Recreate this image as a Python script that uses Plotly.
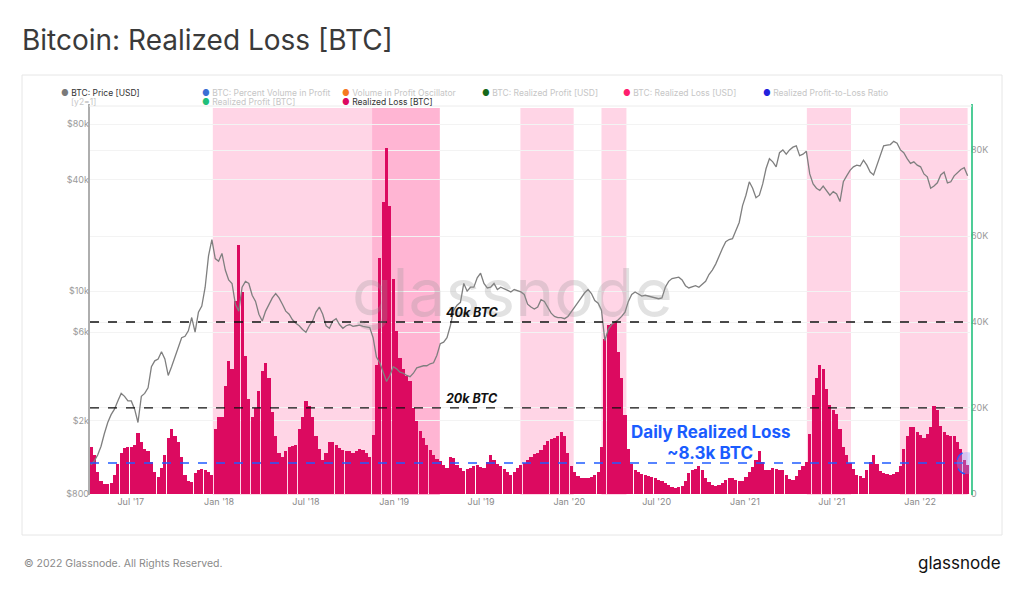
import pandas as pd
import plotly.graph_objects as go

# ---------------- data (weekly samples) ----------------
week_start = "2017-04-09"
n_weeks = 262
dates = pd.date_range(week_start, periods=n_weeks, freq="7D")

price_usd = [
    1150, 1210, 1300, 1450, 1700, 1950, 2150, 2300, 2550, 2800,
    2700, 2550, 2550, 2300, 1950, 2700, 2800, 3000, 3900, 4200,
    4300, 4700, 4300, 3500, 3900, 4400, 5000, 5600, 5700, 6100,
    7200, 6000, 7700, 8300, 10500, 15500, 19000, 15000, 14500, 16000,
    13000, 11500, 11000, 8500, 7800, 10500, 11300, 11000, 9500, 8800,
    7500, 6900, 7800, 8500, 9200, 9700, 9200, 8500, 7800, 7500,
    7000, 6700, 6500, 6200, 6000, 6500, 6900, 7700, 8200, 7500,
    6500, 6300, 6900, 7100, 6600, 6300, 6500, 6600, 6450, 6500,
    6550, 6450, 6400, 6350, 5600, 4400, 4100, 3600, 3250, 3500,
    3900, 3800, 3650, 3600, 3500, 3450, 3600, 3850, 3900, 3950,
    3950, 4050, 4100, 4500, 5200, 5300, 5600, 6500, 7900, 8400,
    8700, 11000, 10000, 10500, 10500, 11800, 12500, 11000, 10400, 10500,
    11000, 10200, 10500, 10300, 10100, 9900, 10200, 10000, 9900, 9600,
    8500, 8200, 8000, 8200, 9000, 8800, 8200, 7600, 7300, 7200,
    7200, 7100, 7300, 7800, 8200, 8700, 9300, 9800, 10200, 9700,
    8900, 8600, 7900, 5400, 6200, 6600, 6800, 7000, 7300, 7700,
    8800, 9600, 9900, 9600, 9400, 9500, 9400, 9300, 9200, 9100,
    9200, 10500, 11300, 11700, 11800, 11900, 11500, 10700, 10400, 10600,
    10700, 10500, 10900, 11300, 12300, 13000, 14000, 15500, 17000, 18500,
    19000, 19200, 21500, 23500, 29000, 33000, 39000, 36000, 32000, 33000,
    38000, 46000, 52000, 50000, 47000, 56000, 58000, 55000, 58000, 60000,
    61000, 54000, 55000, 57000, 43000, 38000, 36000, 35000, 37000, 35000,
    33000, 34500, 33500, 30500, 39000, 42000, 45000, 47000, 48000, 47500,
    51000, 48000, 44000, 42500, 48000, 55000, 61000, 61500, 62000, 64500,
    63000, 58000, 56000, 52000, 49000, 50000, 48000, 47000, 43000, 41500,
    36000, 37000, 38500, 42500, 44000, 38500, 39000, 42000, 44000, 45500,
    46500, 42000,
]

realized_loss_btc = [
    11000, 9000, 5000, 3000, 2200, 2300, 2600, 4500, 7000, 9500,
    10800, 11000, 11000, 11400, 14200, 12000, 10500, 9900, 7500, 5000,
    3900, 6000, 9000, 13000, 15000, 13500, 12000, 8500, 4500, 3000,
    2800, 4800, 5500, 5700, 5500, 5000, 4500, 15000, 18000, 18000,
    25000, 31000, 29000, 45000, 58000, 47000, 32000, 22000, 18000, 20000,
    24000, 28500, 30500, 27000, 19000, 13500, 9500, 8600, 10000, 11000,
    11200, 11500, 15000, 18000, 21600, 20500, 18000, 13500, 10500, 8000,
    9500, 12000, 12000, 11400, 10800, 10200, 9900, 10000, 9600, 10000,
    10500, 10200, 9500, 8600, 13800, 30000, 55000, 68000, 80500, 67000,
    50000, 38000, 31600, 29000, 27500, 26300, 20000, 17000, 14600, 13000,
    11500, 10300, 9100, 8200, 7600, 6800, 6000, 8500, 8400, 6800,
    6000, 5300, 5800, 6000, 6500, 6800, 6300, 6000, 7500, 9100,
    8000, 7000, 6500, 5800, 5000, 4500, 5000, 6000, 6800, 7300,
    7800, 8600, 9300, 9600, 10200, 11500, 12300, 12800, 13100, 13400,
    14500, 13500, 9500, 6500, 5000, 4200, 3800, 3800, 3800, 3900,
    4300, 5000, 11000, 36000, 39400, 39500, 40000, 33000, 27000, 18400,
    10500, 7000, 5600, 5000, 4600, 4400, 4100, 3900, 3600, 3300,
    3000, 2600, 2000, 1500, 1400, 1500, 1800, 3000, 4800, 5500,
    5800, 6400, 5500, 3800, 2800, 2100, 1800, 2100, 2500, 3200,
    3800, 3600, 3300, 3100, 3000, 4000, 5000, 6200, 8000, 9900,
    7500, 5500, 5500, 6000, 5800, 5600, 5500, 4500, 3500, 3200,
    4200, 5600, 6400, 7500, 14000, 23000, 27000, 30000, 29000, 24500,
    20800, 19500, 18500, 15000, 11000, 9000, 7300, 5700, 4500, 4100,
    3800, 5500, 7500, 9100, 7000, 5300, 4900, 4600, 4500, 4700,
    5000, 6500, 10500, 13500, 15500, 15500, 14300, 13600, 13100, 14000,
    15500, 20500, 19500, 15800, 14500, 13800, 13500, 13400, 12000, 10500,
    8000, 6800,
]

shaded_periods = [
    ("2017-12-19", "2019-04-06"),
    ("2018-11-16", "2019-04-06"),
    ("2019-09-21", "2020-01-10"),
    ("2020-03-08", "2020-04-29"),
    ("2021-05-10", "2021-08-10"),
    ("2021-11-20", "2022-04-10"),
]

threshold_levels = [40000, 20000]
threshold_labels = ["40k BTC", "20k BTC"]
current_loss_level = 7200
current_loss_date = "2022-04-08"

price_tickvals = [800, 2000, 6000, 10000, 40000, 80000]
price_ticktext = ["$800", "$2k", "$6k", "$10k", "$40k", "$80k"]
loss_tickvals = [0, 20000, 40000, 60000, 80000]
loss_ticktext = ["0", "20K", "40K", "60K", "80K"]
x_tickvals = ["2017-07-01", "2018-01-01", "2018-07-01", "2019-01-01", "2019-07-01",
              "2020-01-01", "2020-07-01", "2021-01-01", "2021-07-01", "2022-01-01"]
x_ticktext = ["Jul '17", "Jan '18", "Jul '18", "Jan '19", "Jul '19",
              "Jan '20", "Jul '20", "Jan '21", "Jul '21", "Jan '22"]

legend_row1 = [("BTC: Price [USD]", "#7a7a7a", True),
               ("BTC: Percent Volume in Profit", "#3b6fd4", False),
               ("Volume in Profit Oscillator", "#f6791f", False),
               ("BTC: Realized Profit [USD]", "#16691a", False),
               ("BTC: Realized Loss [USD]", "#ff1f6e", False),
               ("Realized Profit-to-Loss Ratio", "#2222dd", False)]
legend_row2 = [("Realized Profit [BTC]", "#1fbf7a", False),
               ("Realized Loss [BTC]", "#dd0760", True)]

# ---------------- figure ----------------
W, H = 1024, 590
L, R, T, B = 90, 54, 108, 95
pw, ph = W - L - R, H - T - B


def px(x):
    return (x - L) / pw


def py(y):
    return (H - B - y) / ph


FONT = "Inter, Noto Sans, sans-serif"
BAR_COLOR = "#dc0a60"

fig = go.Figure()

fig.add_trace(go.Bar(
    x=dates, y=realized_loss_btc, yaxis="y",
    marker=dict(color=BAR_COLOR, line=dict(width=0)),
    width=6.6 * 24 * 3600 * 1000,
    name="Realized Loss [BTC]", showlegend=False,
))
fig.add_trace(go.Scatter(
    x=dates, y=price_usd, yaxis="y2", mode="lines",
    line=dict(color="#7f7f7f", width=1.3),
    name="BTC: Price [USD]", showlegend=False,
))

shapes = []
for s, e in shaded_periods:
    shapes.append(dict(type="rect", xref="x", yref="paper", x0=s, x1=e, y0=0, y1=1,
                       fillcolor="rgba(255,80,150,0.24)", line=dict(width=0), layer="below"))
for lvl in threshold_levels:
    shapes.append(dict(type="line", xref="paper", yref="y", x0=0, x1=1, y0=lvl, y1=lvl,
                       line=dict(color="#111111", width=1.3, dash="dash")))
shapes.append(dict(type="line", xref="paper", yref="y", x0=0, x1=1,
                   y0=current_loss_level, y1=current_loss_level,
                   line=dict(color="#1f5cff", width=1.3, dash="dash")))
shapes.append(dict(type="circle", xref="x", yref="y", xsizemode="pixel", ysizemode="pixel",
                   xanchor=current_loss_date, yanchor=current_loss_level,
                   x0=-10, x1=10, y0=-11, y1=11,
                   fillcolor="rgba(140,160,255,0.35)",
                   line=dict(color="#1f5cff", width=1.3, dash="dash")))
# axis lines
shapes.append(dict(type="line", xref="paper", yref="paper", x0=px(89), x1=px(89),
                   y0=0, y1=py(104), line=dict(color="#9a9a9a", width=1.6)))
shapes.append(dict(type="line", xref="paper", yref="paper", x0=px(972), x1=px(972),
                   y0=0, y1=py(104), line=dict(color="#22c07e", width=1.6)))
shapes.append(dict(type="line", xref="paper", yref="paper", x0=px(89), x1=px(972),
                   y0=py(106), y1=py(106), line=dict(color="#ececec", width=1)))
# panel border
shapes.append(dict(type="rect", xref="paper", yref="paper", x0=px(22), x1=px(1002),
                   y0=py(535), y1=py(75), line=dict(color="#e6e6e6", width=1), layer="below"))

annotations = []
annotations.append(dict(text="glassnode", xref="paper", yref="paper", x=px(512), y=py(292),
                        xanchor="center", yanchor="middle",
                        showarrow=False, font=dict(family=FONT, size=66, color="rgba(150,150,150,0.28)")))
for lvl, lab in zip(threshold_levels, threshold_labels):
    annotations.append(dict(text="<b><i>" + lab + "</i></b>", xref="paper", yref="y",
                            x=px(444), y=lvl, xanchor="left", yanchor="bottom", yshift=0,
                            showarrow=False, font=dict(family=FONT, size=12.5, color="#111111")))
annotations.append(dict(text="<b>Daily Realized Loss</b>", xref="paper", yref="paper",
                        x=px(710), y=py(432), xanchor="center", yanchor="middle", showarrow=False,
                        font=dict(family=FONT, size=17, color="#1a5cff")))
annotations.append(dict(text="<b>~8.3k BTC</b>", xref="paper", yref="paper",
                        x=px(710), y=py(453), xanchor="center", yanchor="middle", showarrow=False,
                        font=dict(family=FONT, size=17, color="#1a5cff")))

legend_x1 = [59, 200, 340, 480, 621, 761]
for (lab, col, active), lx in zip(legend_row1, legend_x1):
    tc = "#333333" if active else "#c6c6c6"
    annotations.append(dict(text=f"<span style='color:{col}'>●</span> <span style='color:{tc}'>{lab}</span>",
                            xref="paper", yref="paper", x=px(lx), y=py(92.5), xanchor="left",
                            yanchor="middle", showarrow=False, font=dict(family=FONT, size=8.5)))
annotations.append(dict(text="[y2=1]", xref="paper", yref="paper", x=px(69), y=py(102.5),
                        xanchor="left", yanchor="middle", showarrow=False,
                        font=dict(family=FONT, size=8.5, color="#c6c6c6")))
for (lab, col, active), lx in zip(legend_row2, [200, 340]):
    tc = "#333333" if active else "#c6c6c6"
    annotations.append(dict(text=f"<span style='color:{col}'>●</span> <span style='color:{tc}'>{lab}</span>",
                            xref="paper", yref="paper", x=px(lx), y=py(102.5), xanchor="left",
                            yanchor="middle", showarrow=False, font=dict(family=FONT, size=8.5)))

annotations.append(dict(text="Bitcoin: Realized Loss [BTC]", xref="paper", yref="paper",
                        x=px(20), y=py(40), xanchor="left", yanchor="middle", showarrow=False,
                        font=dict(family=FONT, size=28, color="#3a3a3a")))
annotations.append(dict(text="© 2022 Glassnode. All Rights Reserved.", xref="paper", yref="paper",
                        x=px(22), y=py(563), xanchor="left", yanchor="middle", showarrow=False,
                        font=dict(family=FONT, size=10.5, color="#8a8a8a")))
annotations.append(dict(text="glassnode", xref="paper", yref="paper",
                        x=px(1003), y=py(563), xanchor="right", yanchor="middle", showarrow=False,
                        font=dict(family=FONT, size=17, color="#111111")))

fig.update_layout(
    width=W, height=H,
    margin=dict(l=L, r=R, t=T, b=B),
    paper_bgcolor="white", plot_bgcolor="white",
    font=dict(family=FONT, size=9, color="#999999"),
    bargap=0,
    showlegend=False,
    xaxis=dict(type="date", range=["2017-04-07", "2022-04-15"],
               tickvals=x_tickvals, ticktext=x_ticktext, ticks="",
               showgrid=False, zeroline=False, showline=False,
               tickfont=dict(size=9, color="#8a8a8a")),
    yaxis=dict(side="right", range=[-250, 89800], tickvals=loss_tickvals, ticktext=loss_ticktext,
               showgrid=True, gridcolor="#f3f3f3", gridwidth=1,
               zeroline=False, showline=False, ticks="",
               tickfont=dict(size=9, color="#9a9a9a")),
    yaxis2=dict(type="log", overlaying="y", side="left", range=[2.898, 4.990],
                tickvals=price_tickvals, ticktext=price_ticktext,
                showgrid=True, gridcolor="#f3f3f3", zeroline=False, showline=False, ticks="",
                tickfont=dict(size=9, color="#9a9a9a")),
    shapes=shapes,
    annotations=annotations,
)

fig.write_html("out.html", config={"displayModeBar": False},
               post_script="document.body.style.margin='0px';")
